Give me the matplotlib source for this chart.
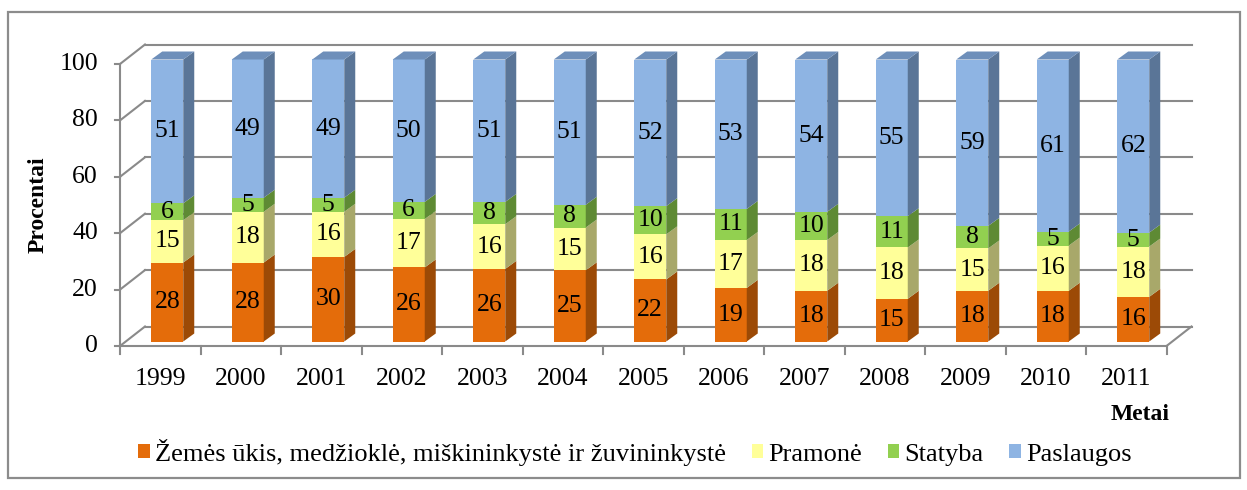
import numpy as np
import matplotlib
matplotlib.use("Agg")
import matplotlib.pyplot as plt
from matplotlib.patches import Polygon, Rectangle, Patch

years = ["1999", "2000", "2001", "2002", "2003", "2004", "2005", "2006",
         "2007", "2008", "2009", "2010", "2011"]
zemes = [28, 28, 30, 26, 26, 25, 22, 19, 18, 15, 18, 18, 16]
pramone = [15, 18, 16, 17, 16, 15, 16, 17, 18, 18, 15, 16, 18]
statyba = [6, 5, 5, 6, 8, 8, 10, 11, 10, 11, 8, 5, 5]
paslaugos = [51, 49, 49, 50, 51, 51, 52, 53, 54, 55, 59, 61, 62]
series_names = ["Žemės ūkis, medžioklė, miškininkystė ir žuvininkystė",
                "Pramonė", "Statyba", "Paslaugos"]
yticks = [0, 20, 40, 60, 80, 100]

front_cols = ["#E46C0A", "#FFFF99", "#92D050", "#8EB4E3"]
side_cols = ["#9C4A06", "#A8A86A", "#5E8A34", "#5A7597"]
top_col = "#6E8FBA"

plt.rcParams['font.family'] = ['Liberation Serif', 'DejaVu Serif']

W, H = 1247, 490
fig = plt.figure(figsize=(W / 100, H / 100), dpi=100)

# outer border
fig.patches.append(Rectangle((8 / W, 12 / H), (1240 - 8) / W, (478 - 12) / H,
                             transform=fig.transFigure, fill=False,
                             edgecolor="#8C8C8C", linewidth=1.6))

left_px, right_px, top_px, bot_px = 120, 1166.5, 64, 346
ax = fig.add_axes([left_px / W, (H - bot_px) / H,
                   (right_px - left_px) / W, (bot_px - top_px) / H])
n = len(years)
ax.set_xlim(-0.5, n - 0.5)
ax.set_ylim(0, 100)
ax.axis("off")

px_x = (right_px - left_px) / n   # pixels per category
px_y = (bot_px - top_px) / 100.0  # pixels per unit

# wall depth
dxw, dyw = 25 / px_x, 19.5 / px_y
gcol = "#8A8A8A"
glw = 1.5
for t in yticks:
    ax.plot([-0.5 + dxw, n - 0.5 + dxw], [t + dyw, t + dyw], color=gcol,
            lw=glw, clip_on=False, zorder=1)
    ax.plot([-0.5, -0.5 + dxw], [t, t + dyw], color=gcol, lw=glw,
            clip_on=False, zorder=1)
    ax.plot([-0.5 - 5 / px_x, -0.5], [t, t], color=gcol, lw=glw,
            clip_on=False, zorder=1)
    ax.text(-0.5 - 22 / px_x, t, str(t), ha="right", va="center",
            fontsize=18.5, color="black")
# left axis and floor
ax.plot([-0.5, -0.5], [0, 100], color=gcol, lw=glw, clip_on=False, zorder=1)
ax.plot([-0.5, n - 0.5], [0, 0], color=gcol, lw=glw, clip_on=False, zorder=1)
ax.plot([n - 0.5, n - 0.5 + dxw], [0, dyw], color=gcol, lw=glw,
        clip_on=False, zorder=1)
for k in range(n + 1):
    ax.plot([k - 0.5, k - 0.5], [0, -8 / px_y], color=gcol, lw=glw,
            clip_on=False, zorder=1)
for i, yr in enumerate(years):
    ax.text(i, -33 / px_y, yr, ha="center", va="center", fontsize=18.5)

# bars
data = np.array([zemes, pramone, statyba, paslaugos], dtype=float)
totals = data.sum(axis=0)
norm = data / totals * 100
bw = 32 / px_x
bx, by = 7 / px_x, 4.5 / px_y
ddx, ddy = 11 / px_x, 8 / px_y

for i in range(n):
    cum = 0.0
    x0 = i - bw / 2 + bx
    for s in range(4):
        h = norm[s, i]
        b = cum + by
        ax.add_patch(Rectangle((x0, b), bw, h, facecolor=front_cols[s],
                               edgecolor="none", zorder=3, clip_on=False))
        ax.add_patch(Polygon([(x0 + bw, b), (x0 + bw + ddx, b + ddy),
                              (x0 + bw + ddx, b + h + ddy), (x0 + bw, b + h)],
                             closed=True, facecolor=side_cols[s],
                             edgecolor="none", zorder=3, clip_on=False))
        if s == 3:
            ax.add_patch(Polygon([(x0, b + h), (x0 + ddx, b + h + ddy),
                                  (x0 + bw + ddx, b + h + ddy), (x0 + bw, b + h)],
                                 closed=True, facecolor=top_col,
                                 edgecolor="none", zorder=3, clip_on=False))
        ax.text(x0 + bw / 2, b + h / 2, str(int(data[s, i])), ha="center",
                va="center", fontsize=18.5, zorder=5)
        cum += h

fig.text(38 / W, 1 - 205 / H, "Procentai", rotation=90, ha="center",
         va="center", fontsize=17, fontweight="bold")
fig.text(1170 / W, 1 - 414 / H, "Metai", ha="right", va="center",
         fontsize=17, fontweight="bold")

handles = [Patch(facecolor=c, edgecolor="none") for c in front_cols]
fig.legend(handles, series_names, loc="center", bbox_to_anchor=(635 / W, 1 - 452 / H),
           ncol=4, frameon=False, fontsize=19, handlelength=0.45,
           handleheight=0.45, handletextpad=0.2, columnspacing=0.95)

fig.savefig("out.png", dpi=100)
